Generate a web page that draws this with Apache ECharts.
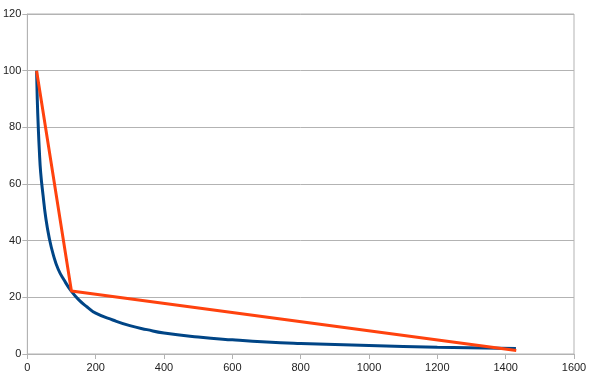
<!DOCTYPE html>
<html><head><meta charset="utf-8">
<script src="https://cdn.jsdelivr.net/npm/echarts@6/dist/echarts.min.js"></script>
<style>html,body{margin:0;padding:0;background:#fff}#c{width:600px;height:387px}</style>
</head><body><div id="c"></div>
<script>
var blueX = [27, 29, 32, 35, 39, 46, 54, 64, 76, 90, 108, 128, 150, 175, 200, 250, 300, 350, 400, 500, 600, 700, 800, 1000, 1200, 1430];
var blueY = [100, 90, 80, 72, 64, 56, 48, 41, 35, 30, 26, 22.3, 19.2, 16.6, 14.4, 12, 10, 8.6, 7.4, 6, 5, 4.2, 3.7, 3, 2.4, 1.9];
var orangeX = [27, 129, 1431];
var orangeY = [100, 22.2, 1.2];
var xTicks = [0, 200, 400, 600, 800, 1000, 1200, 1400, 1600];
var yTicks = [0, 20, 40, 60, 80, 100, 120];

function pairs(xs, ys){ return xs.map(function(x,i){ return [x, ys[i]]; }); }

var chart = echarts.init(document.getElementById('c'));
chart.setOption({
  animation: false,
  grid: {left: 25, right: 26, top: 14, bottom: 33, show: true, borderColor: '#b3b3b3', borderWidth: 1},
  xAxis: {
    type: 'value', min: xTicks[0], max: xTicks[xTicks.length-1], interval: 200,
    axisLine: {show: true, lineStyle: {color: '#b3b3b3'}},
    axisTick: {show: true, length: 5, lineStyle: {color: '#b3b3b3'}},
    axisLabel: {color: '#222', fontFamily: 'Liberation Sans', fontSize: 11, margin: 8,
      formatter: function(v){ return String(v); }},
    splitLine: {show: false}
  },
  yAxis: {
    type: 'value', min: yTicks[0], max: yTicks[yTicks.length-1], interval: 20,
    axisLine: {show: true, lineStyle: {color: '#b3b3b3'}},
    axisTick: {show: true, length: 5, lineStyle: {color: '#b3b3b3'}},
    axisLabel: {color: '#222', fontFamily: 'Liberation Sans', fontSize: 11, margin: 6,
      formatter: function(v){ return String(v); }},
    splitLine: {show: true, lineStyle: {color: '#b3b3b3', width: 1}}
  },
  series: [
    {type: 'line', data: pairs(blueX, blueY), smooth: 0.5, showSymbol: false,
     lineStyle: {color: '#004586', width: 3}, itemStyle: {color: '#004586'}},
    {type: 'line', data: pairs(orangeX, orangeY), showSymbol: false,
     lineStyle: {color: '#ff420e', width: 3}, itemStyle: {color: '#ff420e'}}
  ]
});
</script></body></html>
